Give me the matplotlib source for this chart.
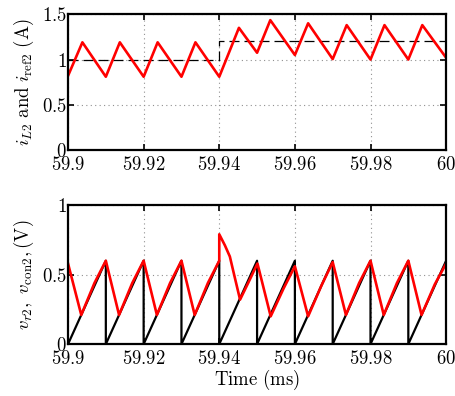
import matplotlib
matplotlib.use('Agg')
import matplotlib.pyplot as plt
from matplotlib.ticker import FuncFormatter

plt.rcParams['mathtext.fontset'] = 'cm'
plt.rcParams['font.family'] = 'serif'
plt.rcParams['font.serif'] = ['DejaVu Serif']

# top panel: inductor current and reference (A)
t_iL = [59.9, 59.9038, 59.91, 59.9137, 59.92, 59.9237, 59.93, 59.9337, 59.94,
        59.9452, 59.95, 59.9535, 59.96, 59.9635, 59.97, 59.9737, 59.98,
        59.9837, 59.99, 59.9937, 60.0]
iL = [0.82, 1.19, 0.81, 1.19, 0.81, 1.19, 0.81, 1.19, 0.81,
      1.35, 1.075, 1.435, 1.05, 1.40, 1.005, 1.38, 1.0,
      1.38, 1.0, 1.38, 1.02]
t_ref = [59.9, 59.94, 59.94, 60.0]
iref = [1.0, 1.0, 1.2, 1.2]

# bottom panel: ramp carrier (black) and control voltage (red)
t_ramp = [59.9, 59.91, 59.91, 59.92, 59.92, 59.93, 59.93, 59.94, 59.94,
          59.95, 59.95, 59.96, 59.96, 59.97, 59.97, 59.98, 59.98,
          59.99, 59.99, 60.0]
v_ramp = [0.0, 0.6, 0.0, 0.6, 0.0, 0.6, 0.0, 0.6, 0.0,
          0.6, 0.0, 0.6, 0.0, 0.6, 0.0, 0.6, 0.0,
          0.6, 0.0, 0.6]
t_con = [59.9, 59.9035, 59.907, 59.91, 59.9135, 59.917, 59.92, 59.9235, 59.927,
         59.93, 59.9335, 59.937, 59.94, 59.94, 59.9415, 59.9428, 59.9441, 59.9455,
         59.948, 59.9501, 59.9536, 59.957, 59.96, 59.9635, 59.967, 59.97,
         59.9735, 59.977, 59.98, 59.9835, 59.987, 59.99, 59.9935, 59.997, 60.0]
v_con = [0.58, 0.21, 0.44, 0.60, 0.21, 0.44, 0.60, 0.21, 0.44,
         0.60, 0.21, 0.44, 0.60, 0.79, 0.71, 0.63, 0.48, 0.32,
         0.46, 0.58, 0.20, 0.40, 0.56, 0.20, 0.42, 0.59,
         0.21, 0.44, 0.60, 0.21, 0.44, 0.60, 0.21, 0.43, 0.58]

fig = plt.figure(figsize=(4.55, 3.96), dpi=100)
ax1 = fig.add_axes([0.1495, 0.621, 0.831, 0.343])
ax2 = fig.add_axes([0.1495, 0.131, 0.831, 0.351])

ax1.plot(t_ref, iref, color='k', lw=0.9, ls=(0, (8, 4)))
ax1.plot(t_iL, iL, color='#ff0000', lw=1.9)
ax2.plot(t_ramp, v_ramp, color='k', lw=1.6)
ax2.plot(t_con, v_con, color='#ff0000', lw=1.9)

xt = [59.9, 59.92, 59.94, 59.96, 59.98, 60.0]
fmt = FuncFormatter(lambda v, p: r'$%g$' % round(v, 2))

for ax in (ax1, ax2):
    ax.set_xlim(59.9, 60.0)
    ax.set_xticks(xt)
    ax.xaxis.set_major_formatter(fmt)
    ax.yaxis.set_major_formatter(fmt)
    ax.grid(True, ls=(0, (1, 3)), color='#909090', lw=0.8)
    ax.tick_params(direction='in', top=True, right=True, labelsize=13.5,
                   width=1.2, length=4, pad=1)
    ax.tick_params(axis='x', pad=4)
    for s in ax.spines.values():
        s.set_linewidth(1.6)

ax1.set_ylim(0, 1.5)
ax1.set_yticks([0, 0.5, 1, 1.5])
ax2.set_ylim(0, 1)
ax2.set_yticks([0, 0.5, 1])

ax1.set_ylabel(r'$i_{L2}\ \mathrm{and}\ i_{\mathrm{ref2}}\ \mathrm{(A)}$', fontsize=13.5, labelpad=4)
ax2.set_ylabel(r'$v_{r2},\ v_{\mathrm{con2}},\mathrm{(V)}$', fontsize=13.5, labelpad=4)
ax2.set_xlabel(r'$\mathrm{Time\ (ms)}$', fontsize=13.5, labelpad=0)

fig.savefig('out.png', dpi=100)
